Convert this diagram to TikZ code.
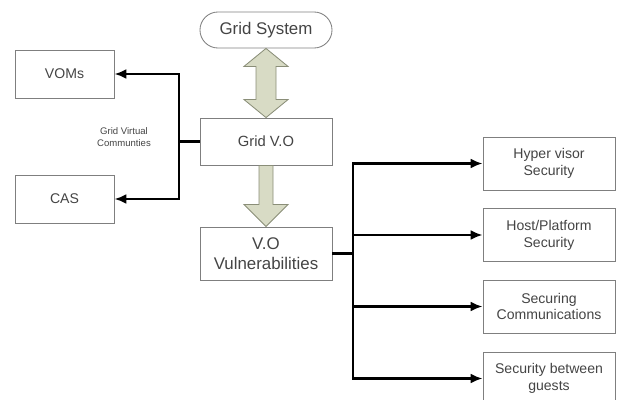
\documentclass[tikz,border=0pt]{standalone}
\usepackage{fontspec}
\setmainfont{Liberation Sans}
\usetikzlibrary{positioning,arrows.meta,calc}
\definecolor{boxStroke}{HTML}{7f7f7f}
\definecolor{txtGray}{HTML}{444444}
\definecolor{bigFill}{HTML}{d8dbc5}
\definecolor{bigStroke}{HTML}{8a8e78}

\begin{document}
\begin{tikzpicture}[
  x=0.025cm, y=-0.025cm,
  font=\fontsize{10}{12}\selectfont,
  blk/.style   ={draw=boxStroke, line width=0.6pt, text=txtGray, align=center, minimum width=3.3cm, minimum height=1.325cm, inner sep=2pt},
  small/.style ={draw=boxStroke, line width=0.6pt, text=txtGray, align=center, minimum width=2.475cm, minimum height=1.2cm, inner sep=2pt},
  term/.style  ={draw=boxStroke, line width=0.6pt, text=txtGray, rounded corners=0.45cm, minimum width=3.3cm, minimum height=0.9cm, inner sep=2pt},
  big/.style   ={font=\fontsize{12}{14}\selectfont},
  link/.style  ={line width=2.1pt},
  arr/.style   ={-{Latex[length=3mm, width=2.5mm]}, line width=2.1pt},
  bigarr/.style={draw=bigStroke, fill=bigFill, line width=0.6pt, line join=miter},
]
\useasboundingbox (0,0) rectangle (617,400);

% ============ Centre column ============
\node[term, big] (gs) at (266,30) {Grid System};
\node[blk, minimum height=1.175cm, font=\fontsize{10.5}{12}\selectfont] (gvo) at (266,141.5) {Grid V.O};
\node[blk, big] (vov) at (266,253.5) {V.O\\Vulnerabilities};

% ============ Left column ============
\node[small] (voms) at (64.5,74)  {VOMs};
\node[small] (cas)  at (64.5,199) {CAS};
\node[font=\fontsize{6.8}{8}\selectfont, text=txtGray, align=center] (gvc) at (124,137) {Grid Virtual\\Communties};

% ============ Right column ============
\node[blk] (hyp)   at (549,163.5) {Hyper visor\\Security};
\node[blk] (host)  at (549,235)   {Host/Platform\\Security};
\node[blk] (comm)  at (549,306.5) {Securing\\Communications};
\node[blk] (guest) at (549,378.5) {Security between\\guests};

% ============ Block arrows ============
\draw[bigarr] (gs.south) -- ++(22,18) -- ++(-12,0) -- ($(gvo.north)+(10,-18)$) -- ++(12,0)
  -- (gvo.north) -- ++(-22,-18) -- ++(12,0) -- ($(gs.south)+(-10,18)$) -- ++(-12,0) -- cycle;
\draw[bigarr] ($(gvo.south)+(-7,0)$) -- ($(gvo.south)+(7,0)$) -- ($(vov.north)+(7,-22)$) -- ++(15,0)
  -- (vov.north) -- ++(-22,-22) -- ++(15,0) -- cycle;

% ============ Branch connectors ============
\coordinate (lsplit) at (179,141.5);
\coordinate (rsplit) at (353,253.5);

\draw[link] (gvo.west) -- (lsplit);
\draw[arr] (lsplit) |- (voms.east);
\draw[arr] (lsplit) |- (cas.east);

\draw[link] (vov.east) -- (rsplit);
\foreach \t in {hyp, host, comm, guest} {
  \draw[arr] (rsplit) |- (\t.west);
}

\end{tikzpicture}
\end{document}
